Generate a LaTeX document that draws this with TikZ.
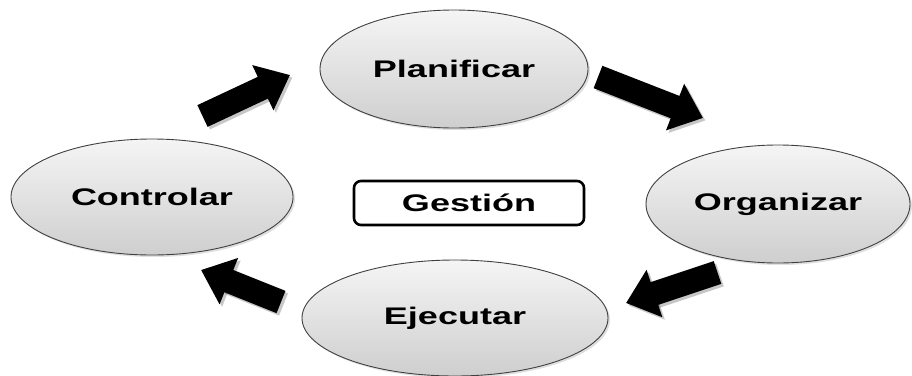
\documentclass[tikz,border=0pt]{standalone}
\usepackage{fontspec}
\setmainfont{Liberation Sans}
\usetikzlibrary{shapes.geometric,arrows.meta,shadows}
\newcommand{\lbl}[1]{\scalebox{1.5}[1]{\fontsize{24}{28}\selectfont\bfseries #1}}
\tikzset{
  phase/.style={ellipse, draw=black!75, line width=0.9pt, inner sep=0pt,
    top color=gray!8, bottom color=gray!38,
    drop shadow={opacity=0.25, shadow xshift=2pt, shadow yshift=-2pt}},
  centerbox/.style={draw=black, line width=2.6pt, rounded corners=7pt, fill=white,
    minimum width=230pt, minimum height=44pt, inner sep=0pt},
  bigarrow/.style={line width=24pt, black, -{Triangle[length=30pt,width=48pt]}},
  arrowshade/.style={line width=24pt, black, opacity=0.22, -{Triangle[length=30pt,width=48pt]}}
}
\begin{document}
\begin{tikzpicture}[x=1pt,y=-1pt]
\useasboundingbox (0,0) rectangle (912,375);
\node[phase, minimum width=268pt, minimum height=118pt] (plan) at (454,69) {\lbl{Planificar}};
\node[phase, minimum width=264pt, minimum height=118pt] (org) at (778,204) {\lbl{Organizar}};
\node[phase, minimum width=282pt, minimum height=116pt] (ctrl) at (152,197) {\lbl{Controlar}};
\node[phase, minimum width=306pt, minimum height=116pt] (ejec) at (455,318) {\lbl{Ejecutar}};
\node[centerbox] (gest) at (469,203) {\lbl{Gestión}};
% arrow ends
\coordinate (a1s) at (202.5,116);
\coordinate (a1e) at (290,75);
\coordinate (a2s) at (598,77);
\coordinate (a2e) at (703,118);
\coordinate (a3s) at (717.5,272.5);
\coordinate (a3e) at (626,303);
\coordinate (a4s) at (281,302);
\coordinate (a4e) at (201,270);
\foreach \s/\e in {a1s/a1e,a2s/a2e,a3s/a3e,a4s/a4e}{
  \draw[arrowshade] ([shift={(2.5,2.5)}]\s) -- ([shift={(2.5,2.5)}]\e);
  \draw[bigarrow] (\s) -- (\e);
}
\end{tikzpicture}
\end{document}
